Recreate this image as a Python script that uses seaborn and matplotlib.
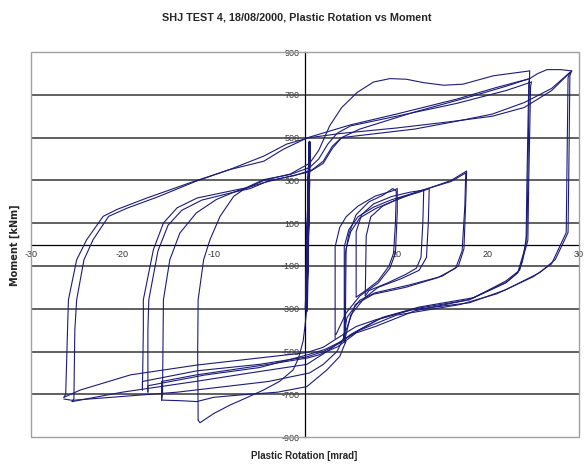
import numpy as np
import pandas as pd
import matplotlib
matplotlib.use('Agg')
import matplotlib.pyplot as plt
import matplotlib.patches as patches
import seaborn as sns

# Plastic rotation [mrad] / moment [kNm], branch by branch

# elastic start
rot_elastic = [0.3, 0.5, 0.1, 0.5, 0.15, 0.45, 0.2]
mom_elastic = [0, 480, -300, 470, -290, 300, -310]

# small loops (right of the axis)
rot_small1 = [4.3, 4.4, 4.8, 5.6, 7.0, 8.5, 9.6, 10.0, 9.9, 9.7, 9.2, 8.0, 6.8, 5.8, 5.6]
mom_small1 = [-455, -50, 50, 140, 200, 230, 262, 250, 100, -40, -100, -170, -210, -240, -245]
rot_small2 = [5.6, 5.6, 6.2, 7.5, 9.5, 11.5, 13.0, 12.9, 12.7, 12.2, 11.0, 9.0, 7.0, 6.6]
mom_small2 = [-245, 60, 140, 190, 225, 245, 255, 100, -60, -110, -140, -180, -215, -240]
rot_small3 = [6.6, 6.7, 7.2, 8.5, 10.5, 12.5, 13.6, 13.5, 13.3, 12.5, 10.5, 8.0, 6.5, 5.0, 4.5, 4.3]
mom_small3 = [-240, 40, 130, 180, 220, 245, 262, 100, -60, -120, -160, -200, -250, -330, -420, -455]
rot_small4 = [4.3, 4.3, 4.8, 5.8, 7.5, 9.5, 13.0, 16.0, 17.7, 17.6, 17.4, 16.8, 15.0, 11.3, 7.7, 6.0, 4.6, 4.2]
mom_small4 = [-455, -10, 70, 130, 175, 210, 255, 300, 344, 200, -20, -100, -148, -190, -225, -260, -340, -440]
rot_small5 = [3.3, 3.3, 3.8, 4.5, 5.8, 7.7, 9.5, 10.1, 10.1, 9.9, 9.3, 8.0, 6.0, 4.5, 3.4]
mom_small5 = [-440, -10, 80, 130, 180, 227, 250, 262, 150, -40, -110, -180, -240, -320, -420]
rot_small6 = [4.4, 4.5, 5.0, 6.0, 7.8, 9.8, 12.5, 16.0, 17.6, 17.5, 17.2, 16.5, 14.5, 11.0, 7.5, 5.5, 4.5]
mom_small6 = [-460, -20, 60, 125, 170, 205, 250, 295, 335, 180, -30, -110, -155, -200, -232, -280, -400]

# big cycles, negative going branches
rot_neg0 = [0.2, 0.0, -0.2, -0.7, -1.3, -2.8, -4.55, -6.5, -8.2, -10.0, -11.5, -11.7]
mom_neg0 = [-300, -380, -450, -530, -586, -640, -680, -718, -750, -790, -833, -820]
rot_neg1 = [24.6, 24.5, 24.4, 24.3, 23.8, 23.3, 22.0, 17.9, 12.0, 7.7, 5.6, 3.6, 1.5, 0.3, -4.0, -8.0, -12.0, -15.7, -15.7]
mom_neg1 = [812, 600, 300, 50, -80, -131, -178, -258, -310, -383, -413, -477, -516, -530, -560, -585, -610, -640, -727]
rot_neg2 = [24.6, 24.5, 24.3, 24.2, 23.3, 22.0, 18.0, 12.0, 8.0, 5.0, 3.8, 2.0, 0.2, -5.0, -11.8, -17.8, -17.8]
mom_neg2 = [776, 760, 300, 0, -131, -178, -258, -300, -350, -420, -461, -500, -525, -560, -590, -640, -680]
rot_neg3 = [24.8, 24.7, 24.5, 24.4, 23.5, 22.0, 18.5, 12.5, 8.5, 5.5, 4.0, 2.2, 0.3, -5.0, -11.0, -17.2, -17.2]
mom_neg3 = [760, 740, 300, 20, -120, -170, -248, -292, -340, -410, -452, -490, -515, -575, -610, -660, -690]
rot_neg4 = [29.2, 29.0, 28.9, 28.8, 27.4, 25.7, 22.0, 18.0, 11.7, 7.7, 5.6, 3.6, 2.0, 0.2, -5.0, -11.8, -19.1, -24.6, -26.4]
mom_neg4 = [812, 790, 400, 56, -70, -131, -211, -272, -305, -352, -383, -436, -480, -505, -530, -563, -609, -680, -714]
rot_neg5 = [29.0, 28.8, 28.6, 27.0, 25.0, 21.0, 17.0, 10.0, 6.0, 4.0, 2.4, 0.2, -6.0, -12.0, -20.0, -25.5]
mom_neg5 = [805, 780, 56, -90, -150, -230, -280, -330, -400, -450, -500, -560, -600, -640, -690, -734]
rot_neg6 = [4.5, 3.8, 2.4, 0.2, -3.0, -7.1, -10.0, -11.85, -13.5, -15.7]
mom_neg6 = [-450, -523, -586, -664, -690, -703, -714, -734, -730, -727]
rot_neg7 = [4.2, 3.5, 2.0, 0.5, -4.0, -9.0, -14.0, -20.0, -25.5, -26.4]
mom_neg7 = [-440, -500, -560, -600, -640, -665, -690, -710, -728, -722]

# big cycles, positive going branches
rot_pos0 = [-11.7, -11.75, -11.7, -11.1, -10.4, -9.3, -7.8, -6.7, -4.5, -1.6, 0.5, 1.5, 2.7, 4.0, 5.7, 7.5, 9.3, 11.1, 13.0, 15.2, 17.3, 20.6, 24.6]
mom_pos0 = [-820, -500, -258, -71, 23, 132, 226, 258, 300, 330, 380, 440, 555, 640, 711, 760, 776, 773, 757, 745, 750, 789, 812]
rot_pos1 = [-26.4, -26.2, -26.0, -25.9, -25.0, -23.9, -22.1, -20.6, -17.3, -12.6, -8.2, -4.5, -2.4, 0.3, 5.0, 10.0, 16.6, 21.0, 24.6, 25.5, 26.5, 28.0, 29.2]
mom_pos1 = [-714, -700, -400, -258, -71, 23, 132, 164, 218, 289, 351, 390, 445, 500, 560, 610, 680, 735, 776, 800, 818, 818, 812]
rot_pos2 = [-25.5, -25.3, -25.2, -25.0, -24.2, -23.2, -21.5, -19.5, -16.0, -12.0, -8.0, -4.5, -2.0, 0.5, 4.0, 10.0, 16.0, 20.5, 24.0, 27.0, 29.2]
mom_pos2 = [-734, -720, -400, -258, -71, 23, 132, 170, 225, 295, 355, 414, 470, 500, 520, 545, 575, 600, 641, 720, 812]
rot_pos3 = [-17.8, -17.7, -17.7, -16.6, -15.5, -14.0, -11.8, -8.2, -6.5, -4.5, -1.6, 0.5, 1.5, 2.5, 3.5, 5.0, 10.0, 16.6, 22.0, 24.8]
mom_pos3 = [-680, -400, -258, -24, 101, 172, 218, 250, 265, 304, 328, 360, 400, 470, 520, 555, 600, 660, 720, 760]
rot_pos4 = [-17.2, -17.2, -17.1, -16.1, -15.0, -13.5, -11.3, -7.8, -6.0, -4.0, -1.2, 0.8, 2.0, 3.0, 4.0, 6.0, 12.0, 17.0, 20.5, 24.0, 27.0, 29.0]
mom_pos4 = [-690, -400, -258, -30, 90, 160, 208, 245, 262, 298, 322, 350, 390, 460, 500, 510, 540, 580, 610, 664, 730, 805]
rot_pos5 = [-15.7, -15.6, -15.5, -14.8, -13.7, -11.9, -9.7, -7.5, -4.5, -1.6, 0.5, 2.0, 3.0, 4.0, 6.0, 12.0, 18.0, 22.0, 24.6]
mom_pos5 = [-727, -700, -258, -71, 54, 148, 211, 250, 290, 320, 340, 380, 450, 500, 540, 620, 690, 740, 776]

branches = {
    'elastic': (rot_elastic, mom_elastic),
    's1': (rot_small1, mom_small1), 's2': (rot_small2, mom_small2),
    's3': (rot_small3, mom_small3), 's4': (rot_small4, mom_small4),
    's5': (rot_small5, mom_small5), 's6': (rot_small6, mom_small6),
    'n0': (rot_neg0, mom_neg0), 'n1': (rot_neg1, mom_neg1), 'n2': (rot_neg2, mom_neg2),
    'n3': (rot_neg3, mom_neg3), 'n4': (rot_neg4, mom_neg4), 'n5': (rot_neg5, mom_neg5),
    'n6': (rot_neg6, mom_neg6), 'n7': (rot_neg7, mom_neg7),
    'p0': (rot_pos0, mom_pos0), 'p1': (rot_pos1, mom_pos1), 'p2': (rot_pos2, mom_pos2),
    'p3': (rot_pos3, mom_pos3), 'p4': (rot_pos4, mom_pos4), 'p5': (rot_pos5, mom_pos5),
}

rows = []
for name, (r, m) in branches.items():
    for i in range(len(r)):
        rows.append({'branch': name, 'order': i, 'rot': r[i], 'mom': m[i]})
df = pd.DataFrame(rows)

sns.set_style('white')
plt.rcParams['font.family'] = ['Liberation Sans', 'DejaVu Sans']

fig = plt.figure(figsize=(5.88, 4.65), dpi=100)
ax = fig.add_axes([0.0527, 0.060, 0.932, 0.828])

# gridlines at the odd hundreds
for g in [-700, -500, -300, -100, 100, 300, 500, 700]:
    ax.axhline(g, color='#454545', lw=1.2, zorder=1)

line_col = '#1c1c78'
sns.lineplot(data=df[df['branch'] != 'elastic'], x='rot', y='mom', units='branch',
             estimator=None, sort=False, color=line_col, lw=0.8, ax=ax, zorder=3)
sns.lineplot(data=df[df['branch'] == 'elastic'], x='rot', y='mom', units='branch',
             estimator=None, sort=False, color=line_col, lw=1.6, ax=ax, zorder=3)

ax.set_xlim(-30, 30)
ax.set_ylim(-900, 900)

# axes crossing at the origin, excel style
ax.spines['left'].set_position(('data', 0))
ax.spines['bottom'].set_position(('data', 0))
ax.spines['top'].set_visible(False)
ax.spines['right'].set_visible(False)
for s in ['left', 'bottom']:
    ax.spines[s].set_color('black')
    ax.spines[s].set_linewidth(0.9)
    ax.spines[s].set_zorder(2)

ax.add_patch(patches.Rectangle((0, 0), 1, 1, transform=ax.transAxes, fill=False,
                               edgecolor='#a0a0a0', lw=1.0, zorder=4, clip_on=False))

ax.set_xticks([-30, -20, -10, 10, 20, 30])
ax.set_xticklabels(['-30', '-20', '-10', '10', '20', '30'])
ax.set_yticks([-900, -700, -500, -300, -100, 100, 300, 500, 700, 900])
ax.set_yticklabels(['-900', '-700', '-500', '-300', '-100', '100', '300', '500', '700', '900'])
ax.tick_params(axis='both', labelsize=6.5, colors='#333333', length=3, width=0.8,
               direction='out', pad=1)

ax.set_xlabel('')
ax.set_ylabel('')

fig.text(0.505, 0.962, 'SHJ TEST 4, 18/08/2000, Plastic Rotation vs Moment',
         ha='center', va='center', fontsize=7.8, fontweight='bold')
fig.text(0.518, 0.019, 'Plastic Rotation [mrad]', ha='center', va='center',
         fontsize=7, fontweight='bold')
fig.text(0.0255, 0.473, 'Moment [kNm]', ha='center', va='center', rotation=90,
         fontsize=7, fontweight='bold', family=['DejaVu Sans'])

fig.savefig('out.png', dpi=100)
